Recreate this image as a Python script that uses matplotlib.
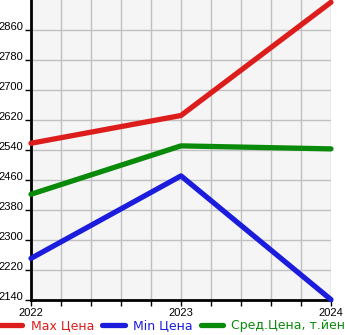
import matplotlib
matplotlib.use('Agg')
import matplotlib.pyplot as plt
import numpy as np

years = [2022, 2023, 2024]
max_price = [2558, 2632, 2934]
min_price = [2251, 2471, 2141]
avg_price = [2422, 2551, 2543]

labels = ['Max Цена', 'Min Цена', 'Сред.Цена, т.йен']
colors = ['#dd1c1c', '#1c1cdd', '#0a8a0a']

y_ticks = [2140, 2220, 2300, 2380, 2460, 2540, 2620, 2700, 2780, 2860]

plt.rcParams['font.family'] = ['DejaVu Sans']

W, H = 345, 335
fig = plt.figure(figsize=(W / 100, H / 100), dpi=100)
ax = fig.add_axes([31 / W, 35 / H, 300 / W, 300 / H])
ax.set_facecolor('#f5f5f5')

for vals, c, lab in zip([max_price, min_price, avg_price], colors, labels):
    ax.plot(years, vals, color=c, linewidth=3.8, solid_capstyle='round',
            label=lab, clip_on=False, zorder=3)

ax.set_xlim(2022, 2024)
ax.set_ylim(2140, 2940)
ax.set_xticks([2022, 2023, 2024])
ax.set_xticks(np.arange(2022, 2024.01, 0.2), minor=True)
ax.set_yticks(y_ticks)
ax.grid(True, which='both', color='#c0c0c0', linewidth=1)
ax.set_axisbelow(True)

for side in ['top', 'right']:
    ax.spines[side].set_visible(False)
for side in ['left', 'bottom']:
    ax.spines[side].set_linewidth(2)
    ax.spines[side].set_color('black')

ax.tick_params(axis='y', length=4, width=1, pad=1.5, labelsize=8)
ax.tick_params(axis='x', which='both', length=4, width=1, pad=2, labelsize=8)
for lbl in ax.get_yticklabels() + ax.get_xticklabels():
    lbl.set_family('Liberation Sans')
for lbl in ax.get_yticklabels():
    lbl.set_verticalalignment('baseline')

fig.legend(loc='lower left', bbox_to_anchor=(0.0, 0.008), ncol=3, frameon=False,
           handlelength=1.8, handletextpad=0.65, columnspacing=0.65,
           fontsize=9, labelcolor='linecolor', borderaxespad=0, borderpad=0)

fig.savefig('out.png', dpi=100)
